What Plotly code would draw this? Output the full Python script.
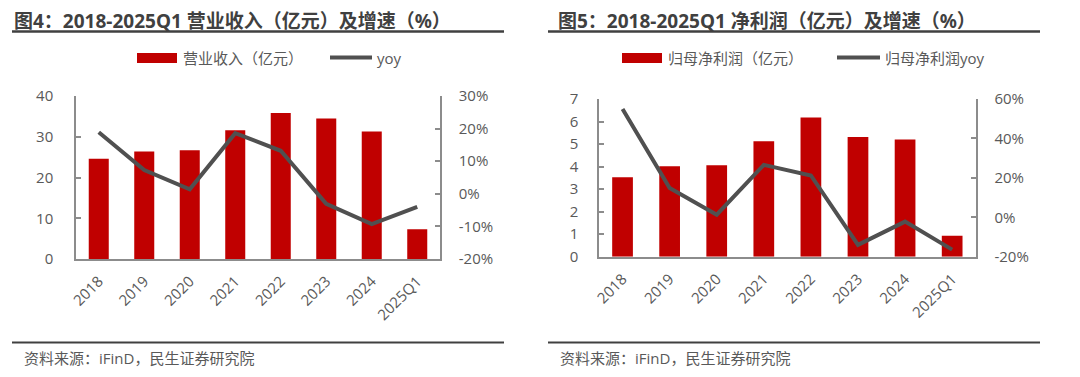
import plotly.graph_objects as go

categories = ["2018", "2019", "2020", "2021", "2022", "2023", "2024", "2025Q1"]

# Chart 1: revenue (亿元) and yoy (%)
revenue = [24.6, 26.4, 26.7, 31.6, 35.8, 34.5, 31.3, 7.3]
revenue_yoy = [18.9, 7.3, 1.4, 18.6, 13.2, -3.1, -9.3, -4.0]

# Chart 2: net profit attributable (亿元) and yoy (%)
profit = [3.53, 4.02, 4.06, 5.13, 6.18, 5.31, 5.20, 0.93]
profit_yoy = [54.9, 14.8, 1.3, 26.6, 21.2, -14.0, -2.2, -16.4]

left_y_ticks = [0, 10, 20, 30, 40]
left_y2_ticks = [-20, -10, 0, 10, 20, 30]
right_y_ticks = [0, 1, 2, 3, 4, 5, 6, 7]
right_y2_ticks = [-20, 0, 20, 40, 60]

titles = ["图4：2018-2025Q1 营业收入（亿元）及增速（%）",
          "图5：2018-2025Q1 净利润（亿元）及增速（%）"]
legend_names = [("营业收入（亿元）", "yoy"), ("归母净利润（亿元）", "归母净利润yoy")]
source_text = "资料来源：iFinD，民生证券研究院"

W, H = 1080, 377
OFF = 8  # page offset of the plot div
RED = "#C00000"
LINE = "#505050"
AXIS = "#8C8C8C"
TXT = "#595959"
FONT = "Open Sans, Noto Sans CJK SC"
TITLE_FONT = "Noto Sans, Noto Sans CJK SC"


def px(x):
    return (x - OFF) / W


def py(y):
    return 1 - (y - OFF) / H


fig = go.Figure()

fig.add_trace(go.Bar(x=categories, y=revenue, name=legend_names[0][0], marker_color=RED,
                     width=0.44, xaxis="x", yaxis="y"))
fig.add_trace(go.Scatter(x=categories, y=revenue_yoy, name=legend_names[0][1], mode="lines",
                         line=dict(color=LINE, width=4), xaxis="x", yaxis="y2"))
fig.add_trace(go.Bar(x=categories, y=profit, name=legend_names[1][0], marker_color=RED,
                     width=0.44, xaxis="x2", yaxis="y3"))
fig.add_trace(go.Scatter(x=categories, y=profit_yoy, name=legend_names[1][1], mode="lines",
                         line=dict(color=LINE, width=4), xaxis="x2", yaxis="y4"))

tickfont = dict(family=FONT, size=15, color=TXT)


def xax(domain, anchor):
    return dict(domain=domain, anchor=anchor, type="category", showline=True,
                linecolor=AXIS, linewidth=1.5, ticks="", tickangle=-45,
                tickfont=tickfont, showgrid=False, ticklabelstandoff=6,
                automargin=False, fixedrange=True)


def yax(domain, anchor, rng, tickvals, suffix="", side="left", overlaying=None, standoff=14):
    d = dict(domain=domain, anchor=anchor, range=rng, tickmode="array", tickvals=tickvals,
             ticktext=[f"{v}{suffix}" for v in tickvals],
             side=side, showline=True, linecolor=AXIS, linewidth=1.5,
             ticks="inside", ticklen=5, tickcolor=AXIS, tickwidth=1.5,
             tickfont=tickfont, showgrid=False, zeroline=False,
             ticklabelstandoff=standoff, automargin=False, fixedrange=True)
    if overlaying:
        d["overlaying"] = overlaying
    return d


yd1 = [py(259), py(96)]
yd2 = [py(256.7), py(99)]

fig.update_layout(
    template="none",
    width=W, height=H, margin=dict(l=0, r=0, t=0, b=0, autoexpand=False),
    paper_bgcolor="white", plot_bgcolor="white",
    font=dict(family=FONT, color=TXT),
    barmode="overlay",
    showlegend=False,
    xaxis=xax([px(76), px(440)], "y"),
    yaxis=yax(yd1, "x", [0, 40], left_y_ticks, standoff=18),
    yaxis2=yax(yd1, "x", [-20, 30], left_y2_ticks, "%", side="right", overlaying="y", standoff=14),
    xaxis2=xax([px(599), px(975.7)], "y3"),
    yaxis3=yax(yd2, "x2", [0, 7], right_y_ticks, standoff=16),
    yaxis4=yax(yd2, "x2", [-20, 60], right_y2_ticks, "%", side="right", overlaying="y3", standoff=14),
)

shapes = []
annotations = []
panels = [
    dict(x0=12, x1=504, tx=12, title=titles[0], names=legend_names[0],
         rect=(137, 177), t1=181, ln=(330, 372), t2=375),
    dict(x0=548, x1=1040, tx=556, title=titles[1], names=legend_names[1],
         rect=(622, 662), t1=666, ln=(837, 880), t2=883),
]
for p in panels:
    # title + underline
    shapes.append(dict(type="line", xref="paper", yref="paper", x0=px(p["x0"]), x1=px(p["x1"]),
                       y0=py(31.5), y1=py(31.5), line=dict(color="#404040", width=2.5)))
    annotations.append(dict(text="<b>" + p["title"] + "</b>", xref="paper", yref="paper",
                            x=px(p["tx"]), y=py(21), xanchor="left", yanchor="middle",
                            showarrow=False, font=dict(family=TITLE_FONT, size=19, color="#404040")))
    # footer line + source
    shapes.append(dict(type="line", xref="paper", yref="paper", x0=px(p["x0"]), x1=px(p["x1"]),
                       y0=py(342.5), y1=py(342.5), line=dict(color="#404040", width=2)))
    annotations.append(dict(text=source_text, xref="paper", yref="paper",
                            x=px(p["x0"] + 10), y=py(358), xanchor="left", yanchor="middle",
                            showarrow=False, font=dict(family=FONT, size=15, color=TXT)))
    # legend
    shapes.append(dict(type="rect", xref="paper", yref="paper", x0=px(p["rect"][0]), x1=px(p["rect"][1]),
                       y0=py(63), y1=py(53), fillcolor=RED, line=dict(width=0)))
    shapes.append(dict(type="line", xref="paper", yref="paper", x0=px(p["ln"][0]), x1=px(p["ln"][1]),
                       y0=py(57.5), y1=py(57.5), line=dict(color=LINE, width=4)))
    annotations.append(dict(text=p["names"][0], xref="paper", yref="paper",
                            x=px(p["t1"]), y=py(58), xanchor="left", yanchor="middle",
                            showarrow=False, font=dict(family=FONT, size=15, color=TXT)))
    annotations.append(dict(text=p["names"][1], xref="paper", yref="paper",
                            x=px(p["t2"]), y=py(58), xanchor="left", yanchor="middle",
                            showarrow=False, font=dict(family=FONT, size=15, color=TXT)))

fig.update_layout(shapes=shapes, annotations=annotations)

fig.write_html("out.html")
